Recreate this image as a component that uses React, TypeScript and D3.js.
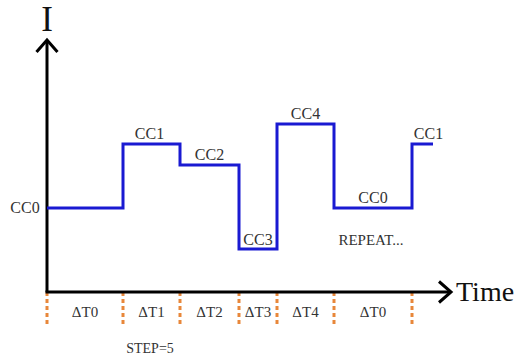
import React from "react";
import * as d3 from "d3";

// Durations of each step (time units) and the current level of each step
const stepLabels = ["ΔT0", "ΔT1", "ΔT2", "ΔT3", "ΔT4", "ΔT0"];
const stepDurations = [7.6, 5.7, 5.9, 3.8, 5.7, 7.8];
const levelNames = ["CC0", "CC1", "CC2", "CC3", "CC4", "CC0", "CC1"];
const levelValues = [4.2, 7.4, 6.35, 2.15, 8.4, 4.2, 7.4];
const tailDuration = 2.1;
const stepCountLabel = "STEP=5";
const repeatLabel = "REPEAT...";

const W = 522;
const H = 358;
const x0 = 47;
const yAxis = 292;

export default function App() {
  const xScale = d3.scaleLinear().domain([0, 40.3]).range([x0, 450]);
  const yScale = d3.scaleLinear().domain([0, 12.6]).range([yAxis, 40]);

  const bounds: number[] = [0];
  stepDurations.forEach((d) => bounds.push(bounds[bounds.length - 1] + d));
  const allBounds = [...bounds, bounds[bounds.length - 1] + tailDuration];

  const pts: [number, number][] = [];
  levelValues.forEach((v, i) => {
    pts.push([allBounds[i], v]);
    pts.push([allBounds[i + 1], v]);
  });
  const line = d3
    .line<[number, number]>()
    .x((d) => xScale(d[0]))
    .y((d) => yScale(d[1]));

  const font = "'Liberation Serif', 'Times New Roman', serif";
  const labelColor = "#333";

  const levelLabelPos = levelNames.map((n, i) => {
    const xs = xScale(allBounds[i]);
    const xe = xScale(allBounds[i + 1]);
    const y = yScale(levelValues[i]);
    if (i === 0) return { x: 25, y: y + 5, n };
    if (i === 3) return { x: (xs + xe) / 2, y: y - 4, n };
    if (i === 1) return { x: (xs + xe) / 2 - 2, y: y - 5, n };
    return { x: (xs + xe) / 2 + (i === 6 ? 6 : 0), y: y - 5, n };
  });

  return (
    <svg width={W} height={H} style={{ position: "absolute", left: 0, top: 0, background: "#fff" }}>
      <defs>
        <marker id="arr" viewBox="-2 -2 20 27" refX="13" refY="11.5" markerWidth="20" markerHeight="27" markerUnits="userSpaceOnUse" orient="auto">
          <path d="M1,1 L13,11.5 L1,22" fill="none" stroke="#000" strokeWidth={3} />
        </marker>
      </defs>
      {bounds.map((b, i) => (
        <line
          key={"d" + i}
          x1={xScale(b)}
          x2={xScale(b)}
          y1={yAxis}
          y2={326}
          stroke="#e8873a"
          strokeWidth={3}
          strokeDasharray="4 3"
        />
      ))}
      <line x1={x0} y1={yAxis} x2={x0} y2={40} stroke="#000" strokeWidth={3} markerEnd="url(#arr)" />
      <line x1={x0 - 1.5} y1={yAxis} x2={451} y2={yAxis} stroke="#000" strokeWidth={3} markerEnd="url(#arr)" />
      <text x={x0} y={31} textAnchor="middle" fontFamily={font} fontSize={35} fill="#111">I</text>
      <text x={456} y={301} fontFamily={font} fontSize={28} fill="#111">Time</text>
      <path d={line(pts) || ""} fill="none" stroke="#1a1ad2" strokeWidth={3} strokeLinejoin="miter" />
      {levelLabelPos.map((p, i) => (
        <text key={"l" + i} x={p.x} y={p.y} textAnchor="middle" fontFamily={font} fontSize={16} fill={labelColor}>
          {p.n}
        </text>
      ))}
      <text x={xScale(bounds[5] + 3.7)} y={yScale(levelValues[3]) - 4} textAnchor="middle" fontFamily={font} fontSize={15} fill={labelColor}>
        {repeatLabel}
      </text>
      {stepLabels.map((s, i) => (
        <text key={"s" + i} x={(xScale(bounds[i]) + xScale(bounds[i + 1])) / 2} y={317} textAnchor="middle" fontFamily={font} fontSize={15} fill={labelColor}>
          {s}
        </text>
      ))}
      <text x={150} y={353} textAnchor="middle" fontFamily={font} fontSize={14} fill={labelColor}>
        {stepCountLabel}
      </text>
    </svg>
  );
}
